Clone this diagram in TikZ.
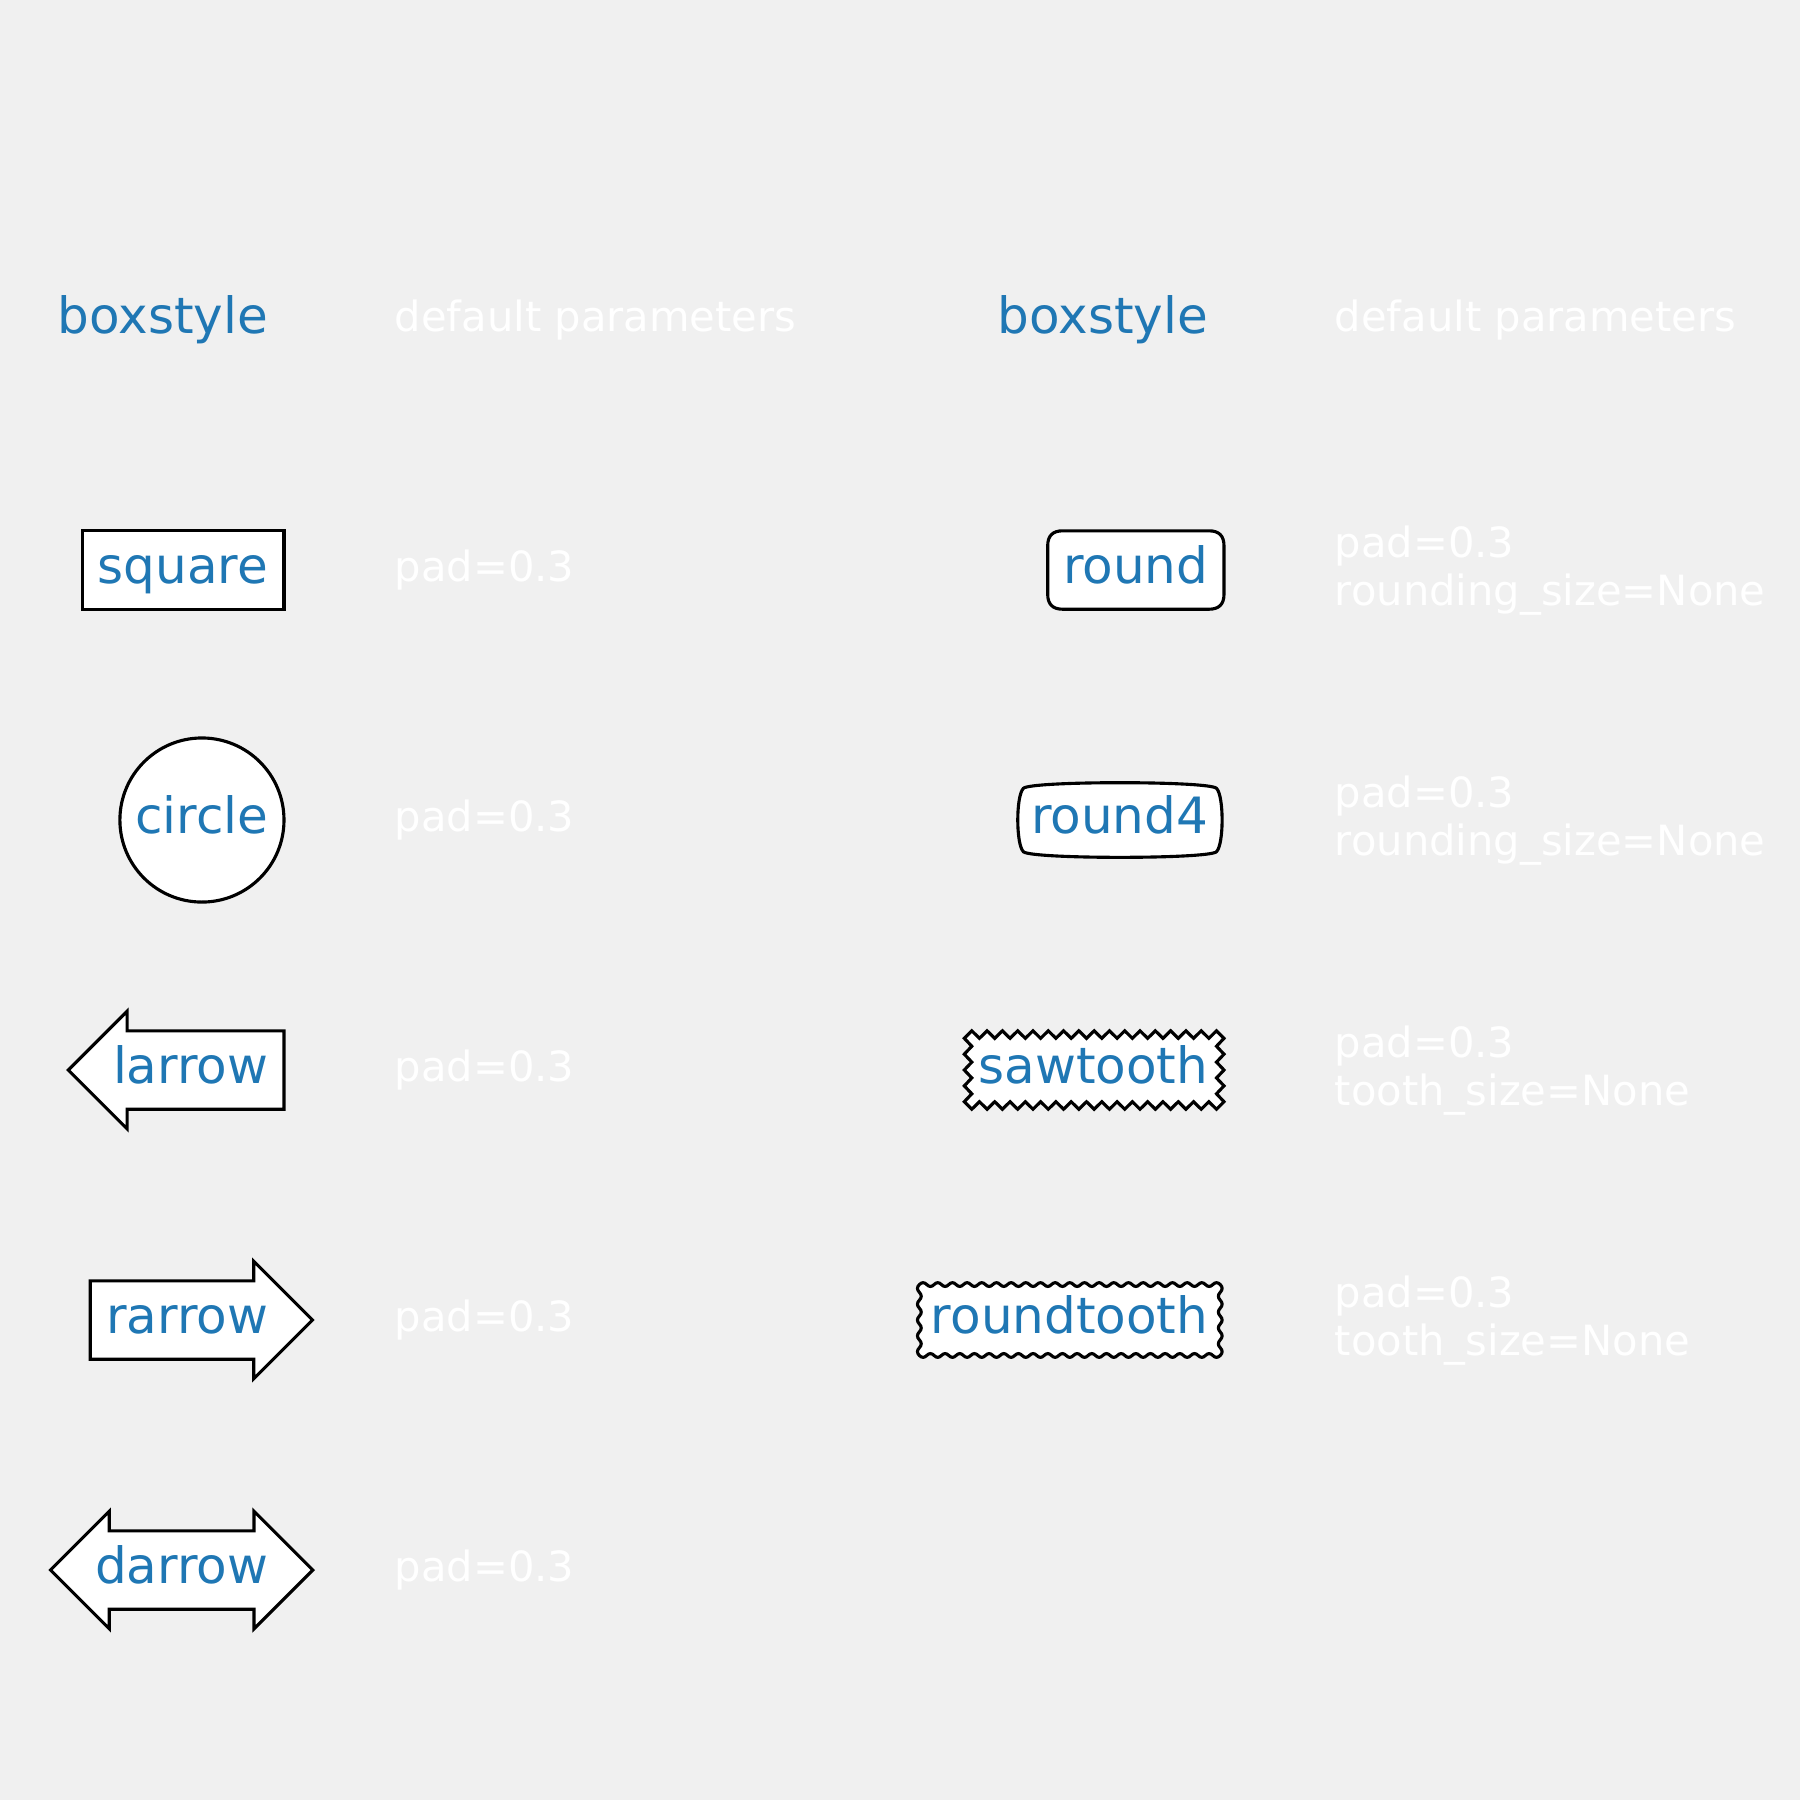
\documentclass[tikz,border=0pt]{standalone}
\usepackage{fontspec}
\setmainfont{DejaVu Sans}
\usetikzlibrary{calc}
\definecolor{tabblue}{HTML}{1F77B4}
\definecolor{figbg}{HTML}{F0F0F0}
\tikzset{
  boxline/.style={draw=black, fill=white, line width=0.75pt, line join=miter},
  stylename/.style={font=\fontsize{12}{14.4}\selectfont, text=tabblue, inner sep=0pt, anchor=base east},
  paramtext/.style={font=\fontsize{10}{12}\selectfont, text=white, inner sep=0pt, anchor=base west},
}
% corner points of a toothed box: name, x0, ytop, x1, ybottom, nx, ny
\newcommand{\toothcoords}[7]{%
  \pgfmathsetmacro{\tsx}{(#4-#2-2*\hsz)/#6}
  \pgfmathsetmacro{\tsy}{(#5-#3-2*\hsz)/#7}
  \pgfmathtruncatemacro{\tnx}{#6+1}
  \pgfmathtruncatemacro{\tny}{#7+1}
  \pgfmathtruncatemacro{\toa}{#6+2}
  \pgfmathtruncatemacro{\tob}{#6+#7+4}
  \pgfmathtruncatemacro{\toc}{2*#6+#7+6}
  \coordinate (#1-0) at (#2,#5);
  \coordinate (#1-\toa) at (#4,#5);
  \coordinate (#1-\tob) at (#4,#3);
  \coordinate (#1-\toc) at (#2,#3);
  \foreach \j in {1,...,\tnx} {
    \pgfmathtruncatemacro{\tidx}{\j+\tob}
    \coordinate (#1-\j) at ({#2+\hsz+(\j-1)*\tsx},{#5+\hsz*sin(90*\j)});
    \coordinate (#1-\tidx) at ({#4-\hsz-(\j-1)*\tsx},{#3-\hsz*sin(90*\j)});
  }
  \foreach \j in {1,...,\tny} {
    \pgfmathtruncatemacro{\tidx}{\j+\toa}
    \pgfmathtruncatemacro{\tjdx}{\j+\toc}
    \coordinate (#1-\tidx) at ({#4+\hsz*sin(90*\j)},{#5-\hsz-(\j-1)*\tsy});
    \coordinate (#1-\tjdx) at ({#2-\hsz*sin(90*\j)},{#3+\hsz+(\j-1)*\tsy});
  }
}
\begin{document}
\begin{tikzpicture}[x=0.24pt, y=-0.24pt]
\fill[figbg] (0,0) rectangle (1800,1800);
\def\hsz{3.75}

% left column
\draw[boxline] (82.5,530.8) rectangle (284,609.2);
\draw[boxline] (201.95,820) circle[radius=82.05];
\draw[boxline] (127.1,1109.2) -- (284,1109.2) -- (284,1030.8) -- (127.1,1030.8) -- (127.1,1011.2) -- (68.3,1070) -- (127.1,1128.8) -- cycle;
\draw[boxline] (253.7,1359.2) -- (90.2,1359.2) -- (90.2,1280.8) -- (253.7,1280.8) -- (253.7,1261.2) -- (312.5,1320) -- (253.7,1378.8) -- cycle;
\draw[boxline] (109.3,1609.2) -- (254,1609.2) -- (254,1628.8) -- (312.8,1570) -- (254,1511.2) -- (254,1530.8) -- (109.3,1530.8) -- (109.3,1511.2) -- (50.5,1570) -- (109.3,1628.8) -- cycle;

% right column
\draw[boxline] (1062.7,609.2) -- (1209,609.2) .. controls (1219,609.2) and (1224,604.2) .. (1224,594.2) -- (1224,545.8) .. controls (1224,535.8) and (1219,530.8) .. (1209,530.8) -- (1062.7,530.8) .. controls (1052.7,530.8) and (1047.7,535.8) .. (1047.7,545.8) -- (1047.7,594.2) .. controls (1047.7,604.2) and (1052.7,609.2) .. (1062.7,609.2) -- cycle;
\draw[boxline] (1023.4,851.7) .. controls (1030.9,859.2) and (1209,859.2) .. (1216.5,851.7) .. controls (1224,844.2) and (1224,795.8) .. (1216.5,788.3) .. controls (1209,780.8) and (1030.9,780.8) .. (1023.4,788.3) .. controls (1015.9,795.8) and (1015.9,844.2) .. (1023.4,851.7) -- cycle;
\toothcoords{st}{968.05}{1034.55}{1220.25}{1105.45}{64}{16}
\draw[boxline] (st-0) \foreach \i in {1,...,167} { -- (st-\i) } -- cycle;
\toothcoords{rt}{919.35}{1284.55}{1220.25}{1355.45}{80}{16}
\draw[boxline] (rt-0) \foreach \i [evaluate=\i as \iprev using {int(\i-1)}, evaluate=\i as \inext using {int(mod(\i+1,200))}] in {1,3,...,199} { .. controls ($(rt-\iprev)!2/3!(rt-\i)$) and ($(rt-\inext)!2/3!(rt-\i)$) .. (rt-\inext) } -- cycle;

% headers
\node[stylename] (head-l) at (269,333.8) {boxstyle};
\node[paramtext] (head-lp) at (394,331.5) {default parameters};
\node[stylename] (head-r) at (1209,333.8) {boxstyle};
\node[paramtext] (head-rp) at (1334,331.5) {default parameters};

% style names and parameters
\node[stylename] (square-lbl) at (269,583.8) {square};
\node[paramtext] (square-p) at (394,581.5) {pad=0.3};
\node[stylename] (circle-lbl) at (269,833.8) {circle};
\node[paramtext] (circle-p) at (394,831.5) {pad=0.3};
\node[stylename] (larrow-lbl) at (269,1083.8) {larrow};
\node[paramtext] (larrow-p) at (394,1081.5) {pad=0.3};
\node[stylename] (rarrow-lbl) at (269,1333.8) {rarrow};
\node[paramtext] (rarrow-p) at (394,1331.5) {pad=0.3};
\node[stylename] (darrow-lbl) at (269,1583.8) {darrow};
\node[paramtext] (darrow-p) at (394,1581.5) {pad=0.3};

\node[stylename] (round-lbl) at (1209,583.8) {round};
\node[paramtext] (round-p1) at (1334,557.2) {pad=0.3};
\node[paramtext] (round-p2) at (1334,605.7) {rounding\_size=None};
\node[stylename] (round4-lbl) at (1209,833.8) {round4};
\node[paramtext] (round4-p1) at (1334,807.2) {pad=0.3};
\node[paramtext] (round4-p2) at (1334,855.7) {rounding\_size=None};
\node[stylename] (saw-lbl) at (1209,1083.8) {sawtooth};
\node[paramtext] (saw-p1) at (1334,1057.2) {pad=0.3};
\node[paramtext] (saw-p2) at (1334,1105.7) {tooth\_size=None};
\node[stylename] (rtooth-lbl) at (1209,1333.8) {roundtooth};
\node[paramtext] (rtooth-p1) at (1334,1307.2) {pad=0.3};
\node[paramtext] (rtooth-p2) at (1334,1355.7) {tooth\_size=None};
\end{tikzpicture}
\end{document}
